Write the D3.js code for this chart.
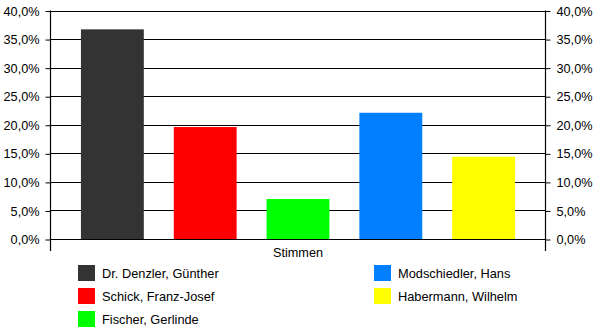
<!DOCTYPE html>
<html>
<head>
<meta charset="utf-8">
<script src="https://cdn.jsdelivr.net/npm/d3@7"></script>
<style>
  html, body { margin: 0; padding: 0; background: #fff; }
  svg { display: block; font-family: Arial, "Liberation Sans", sans-serif; }
</style>
</head>
<body>
<svg id="chart" width="600" height="333"></svg>
<script>
// Stimmenanteile je Kandidat
const candidates = ["Dr. Denzler, Günther", "Schick, Franz-Josef", "Fischer, Gerlinde", "Modschiedler, Hans", "Habermann, Wilhelm"];
const shares = [36.7, 19.6, 7.0, 22.1, 14.4];
const colors = ["#333333", "#ff0000", "#00ff00", "#0080ff", "#ffff00"];
const tickValues = [0, 5, 10, 15, 20, 25, 30, 35, 40];
const categoryLabel = "Stimmen";

(function () {
  const svg = d3.select("#chart");
  const plotLeft = 51, plotRight = 545, plotTop = 10.5, plotBottom = 239;

  const y = d3.scaleLinear().domain([0, 40]).range([plotBottom, plotTop]);
  const x = d3.scaleBand().domain(candidates).range([plotLeft, plotRight])
    .paddingInner(30 / 93).paddingOuter(30 / 93);

  const fmt = v => d3.format(".1f")(v).replace(".", ",") + "%";

  // Gitterlinien
  svg.append("g").selectAll("line").data(tickValues).join("line")
    .attr("x1", plotLeft).attr("x2", plotRight)
    .attr("y1", d => Math.round(y(d)) + 0.5).attr("y2", d => Math.round(y(d)) + 0.5)
    .attr("stroke", "#000").attr("stroke-width", 1);

  // Säulen
  svg.append("g").selectAll("rect").data(candidates).join("rect")
    .attr("x", d => x(d))
    .attr("width", x.bandwidth())
    .attr("y", (d, i) => y(shares[i]))
    .attr("height", (d, i) => y(0) - y(shares[i]))
    .attr("fill", (d, i) => colors[i]);

  // Achsen links und rechts
  const leftAxis = d3.axisLeft(y).tickValues(tickValues).tickFormat(fmt).tickSize(5).tickPadding(6);
  const rightAxis = d3.axisRight(y).tickValues(tickValues).tickFormat(fmt).tickSize(5).tickPadding(6);

  function styleAxis(g) {
    g.select(".domain").remove();
    g.selectAll(".tick line").attr("stroke", "#000");
    g.selectAll(".tick text").attr("fill", "#000").style("font-size", "12.7px")
      .style("font-family", "Arial, 'Liberation Sans', sans-serif");
  }
  svg.append("g").attr("transform", `translate(${plotLeft - 0.5},0.5)`).call(leftAxis).call(styleAxis);
  svg.append("g").attr("transform", `translate(${plotRight + 0.5},0.5)`).call(rightAxis).call(styleAxis);

  // senkrechte Achslinien bis unter die Nulllinie
  [plotLeft - 0.5, plotRight + 0.5].forEach(px => {
    svg.append("line").attr("x1", px).attr("x2", px)
      .attr("y1", plotTop).attr("y2", plotBottom + 12)
      .attr("stroke", "#000").attr("stroke-width", 1.2);
  });

  // Kategorie-Beschriftung
  svg.append("text")
    .attr("x", (plotLeft + plotRight) / 2).attr("y", 257)
    .attr("text-anchor", "middle")
    .style("font-size", "12.7px")
    .text(categoryLabel);

  // Legende
  const legendPos = [
    { x: 78, y: 265 }, { x: 78, y: 288 }, { x: 78, y: 311 },
    { x: 374, y: 265 }, { x: 374, y: 288 }
  ];
  const legend = svg.append("g").selectAll("g").data(candidates).join("g")
    .attr("transform", (d, i) => `translate(${legendPos[i].x},${legendPos[i].y})`);
  legend.append("rect").attr("width", 17).attr("height", 16)
    .attr("fill", (d, i) => colors[i]);
  legend.append("text").attr("x", 24).attr("y", 13)
    .style("font-size", "12.8px").text(d => d);
})();
</script>
</body>
</html>
